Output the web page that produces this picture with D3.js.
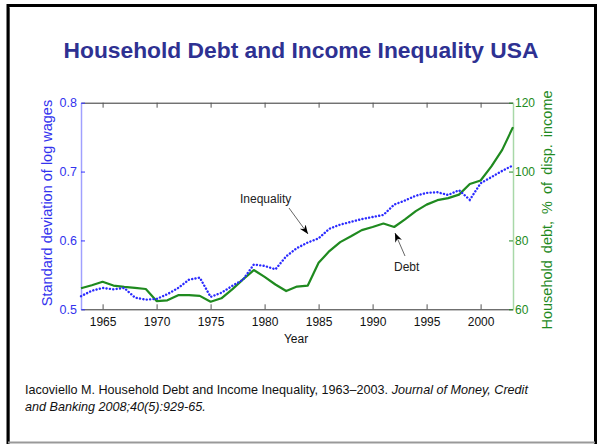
<!DOCTYPE html>
<html><head><meta charset="utf-8">
<script src="https://cdn.jsdelivr.net/npm/d3@7"></script>
<style>html,body{margin:0;padding:0;background:#fff;}svg{display:block;}</style>
</head><body>
<svg id="c" width="602" height="444"></svg>
<script>
const years = d3.range(1963, 2004);
const inequality = [0.519,0.527,0.531,0.529,0.531,0.517,0.514,0.515,0.522,0.531,0.543,0.546,0.518,0.524,0.534,0.543,0.565,0.563,0.558,0.577,0.589,0.597,0.603,0.617,0.623,0.627,0.631,0.634,0.637,0.652,0.658,0.665,0.669,0.670,0.666,0.673,0.659,0.683,0.692,0.701,0.709];
const debt = [66.1,67.0,68.0,66.9,66.5,66.2,65.9,62.4,62.6,64.1,64.1,63.9,62.2,63.2,65.8,68.7,71.4,69.4,67.2,65.3,66.6,66.9,73.5,76.9,79.5,81.2,83.0,83.9,84.9,83.9,86.1,88.5,90.4,91.7,92.3,93.3,96.4,97.4,101.5,106.3,112.9];
const xTicks = [1965,1970,1975,1980,1985,1990,1995,2000];
const leftTicks = [0.5,0.6,0.7,0.8];
const rightTicks = [60,80,100,120];

const svg = d3.select("#c");
// slide frame
svg.append("line").attr("x1",9.5).attr("y1",8).attr("x2",9.5).attr("y2",443).attr("stroke","#999").attr("stroke-width",1);
svg.append("path").attr("d","M8,444 V5.5 H595.5 V444").attr("fill","none").attr("stroke","#000").attr("stroke-width",3);
svg.append("line").attr("x1",8).attr("y1",442.5).attr("x2",595).attr("y2",442.5).attr("stroke","#999").attr("stroke-width",2);

svg.append("text").attr("x",301).attr("y",58).attr("text-anchor","middle")
  .attr("font-family","Liberation Sans, Arial, sans-serif").attr("font-weight","bold").attr("font-size",22.8)
  .attr("fill","#2e3192").text("Household Debt and Income Inequality USA");

const L=81, R=513, T=102.7, B=309.3;
const x = d3.scaleLinear().domain([1963,2003]).range([L,R]);
const yL = d3.scaleLinear().domain([0.5,0.8]).range([B,T]);
const yR = d3.scaleLinear().domain([60,120]).range([B,T]);

// top and bottom axes
const gBottom = svg.append("g").attr("transform",`translate(0,${B})`)
  .call(d3.axisBottom(x).tickValues(xTicks).tickFormat(d3.format("d")).tickSizeInner(-5).tickSizeOuter(0).tickPadding(8));
gBottom.select(".domain").attr("stroke","#333");
gBottom.selectAll(".tick line").attr("stroke","#555");
gBottom.selectAll("text").attr("font-family","Liberation Sans Narrow, Liberation Sans, Arial, sans-serif").attr("font-size",12).attr("fill","#111");
const gTop = svg.append("g").attr("transform",`translate(0,${T})`)
  .call(d3.axisTop(x).tickValues(xTicks).tickFormat("").tickSizeInner(-5).tickSizeOuter(0));
gTop.select(".domain").attr("stroke","#333");
gTop.selectAll(".tick line").attr("stroke","#555");

// left axis
const gLeft = svg.append("g").attr("transform",`translate(${L},0)`)
  .call(d3.axisLeft(yL).tickValues(leftTicks).tickFormat(d3.format(".1f")).tickSizeInner(-4).tickSizeOuter(0).tickPadding(4));
gLeft.select(".domain").attr("stroke","#a0a0ff").attr("stroke-width",1.5);
gLeft.selectAll(".tick line").attr("stroke","#3333ff");
gLeft.selectAll("text").attr("font-family","Liberation Sans, Arial, sans-serif").attr("font-size",12.5).attr("fill","#3333ee");
// right axis
const gRight = svg.append("g").attr("transform",`translate(${R},0)`)
  .call(d3.axisRight(yR).tickValues(rightTicks).tickFormat(d3.format("d")).tickSizeInner(-4).tickSizeOuter(0).tickPadding(2));
gRight.select(".domain").attr("stroke","#a8d8a8").attr("stroke-width",1.5);
gRight.selectAll(".tick line").attr("stroke","#228b22");
gRight.selectAll("text").attr("font-family","Liberation Sans Narrow, Liberation Sans, Arial, sans-serif").attr("font-size",12).attr("fill","#228b22");

// axis titles
svg.append("text").attr("transform","translate(52,203) rotate(-90)").attr("text-anchor","middle")
  .attr("font-family","Liberation Sans, Arial, sans-serif").attr("font-size",14.5).attr("fill","#3333ee")
  .text("Standard deviation of log wages");
svg.append("text").attr("transform","translate(552,210) rotate(-90)").attr("text-anchor","middle")
  .attr("font-family","Liberation Sans, Arial, sans-serif").attr("font-size",14.5).attr("word-spacing",3).attr("fill","#1f8a1f")
  .text("Household debt, % of disp. income");
svg.append("text").attr("x",296).attr("y",343).attr("text-anchor","middle")
  .attr("font-family","Liberation Sans Narrow, Liberation Sans, Arial, sans-serif").attr("font-size",12).attr("fill","#111").text("Year");

// lines
svg.append("path").datum(debt)
  .attr("d", d3.line().x((d,i)=>x(years[i])).y(d=>yR(d)))
  .attr("fill","none").attr("stroke","#1f8a1f").attr("stroke-width",2.2).attr("stroke-linejoin","round");
svg.append("path").datum(inequality)
  .attr("d", d3.line().x((d,i)=>x(years[i])).y(d=>yL(d)))
  .attr("fill","none").attr("stroke","#2b2bff").attr("stroke-width",2.4).attr("stroke-dasharray","0.1,3.3").attr("stroke-linecap","round");

// annotations
const defs = svg.append("defs");
defs.append("marker").attr("id","ah").attr("viewBox","0 0 10 10").attr("refX",10).attr("refY",5)
  .attr("markerWidth",9).attr("markerHeight",9).attr("orient","auto").attr("markerUnits","userSpaceOnUse")
  .append("path").attr("d","M0,1 L10,5 L0,9 L3,5 Z").attr("fill","#000");
const af = "Liberation Sans Narrow, Liberation Sans, Arial, sans-serif";
svg.append("text").attr("x",240).attr("y",203).attr("font-family",af).attr("font-size",12).attr("fill","#222").text("Inequality");
svg.append("line").attr("x1",289).attr("y1",208).attr("x2",308).attr("y2",234).attr("stroke","#666").attr("stroke-width",1).attr("marker-end","url(#ah)");
svg.append("text").attr("x",394).attr("y",271).attr("font-family",af).attr("font-size",12).attr("fill","#222").text("Debt");
svg.append("line").attr("x1",405).attr("y1",256).attr("x2",395).attr("y2",233).attr("stroke","#666").attr("stroke-width",1).attr("marker-end","url(#ah)");

// citation
const cit = svg.append("text").attr("x",25).attr("y",394).attr("font-family","Liberation Sans, Arial, sans-serif").attr("font-size",12.6).attr("fill","#111");
cit.append("tspan").text("Iacoviello M. Household Debt and Income Inequality, 1963–2003. ");
cit.append("tspan").attr("font-style","italic").text("Journal of Money, Credit");
svg.append("text").attr("x",25).attr("y",411).attr("font-family","Liberation Sans, Arial, sans-serif").attr("font-size",12.6).attr("font-style","italic").attr("fill","#111")
  .text("and Banking 2008;40(5):929-65.");
</script>
</body></html>
